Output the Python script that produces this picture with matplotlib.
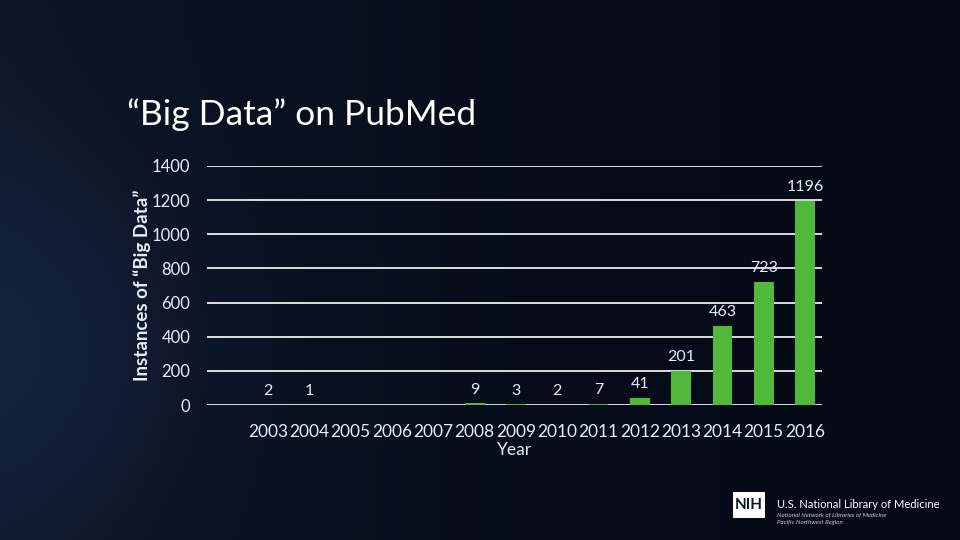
"""Bar chart: instances of "Big Data" on PubMed per year, 2003-2016."""

import matplotlib

matplotlib.use("Agg")
import matplotlib.pyplot as plt
import numpy as np
from matplotlib.patches import FancyBboxPatch

YEARS = ["2003", "2004", "2005", "2006", "2007", "2008", "2009",
         "2010", "2011", "2012", "2013", "2014", "2015", "2016"]
COUNTS = [2, 1, None, None, None, 9, 3, 2, 7, 41, 201, 463, 723, 1196]
Y_TICKS = [0, 200, 400, 600, 800, 1000, 1200, 1400]

TEXT = "#e6eef8"
BAR = "#52b83c"

plt.rcParams["font.family"] = ["Lato", "DejaVu Sans"]

fig = plt.figure(figsize=(9.6, 5.4), dpi=100)

# background: dark navy, slightly lighter toward the left edge
bg = fig.add_axes([0, 0, 1, 1], zorder=-10)
yy, xx = np.mgrid[0:1:270j, 0:1:480j]
glow = np.exp(-((xx - 0.0) ** 2 / 0.04 + (yy - 0.65) ** 2 / 0.12))
side = (1 - xx) ** 2
r = 0.02 + 0.03 * side + 0.03 * glow
g = 0.04 + 0.05 * side + 0.05 * glow
b = 0.09 + 0.07 * side + 0.09 * glow
bg.imshow(np.dstack([r, g, b]), aspect="auto", extent=(0, 1, 0, 1))
bg.set_axis_off()

ax = fig.add_axes([207 / 960, 1 - 405 / 540, 615 / 960, 239 / 540])
ax.patch.set_alpha(0)

x = np.arange(len(YEARS))
vals = [0 if v is None else v for v in COUNTS]
ax.bar(x, vals, width=0.48, color=BAR, zorder=3)

for i, v in enumerate(COUNTS):
    if v is None:
        continue
    ax.annotate(str(v), (i, v), xytext=(0, 5), textcoords="offset points",
                ha="center", va="bottom", color=TEXT, fontsize=11.5)

ax.set_ylim(0, 1400)
ax.set_xlim(-1.48, 13.41)
ax.set_yticks(Y_TICKS)
ax.set_yticklabels([str(t) for t in Y_TICKS])
ax.set_xticks(x)
ax.set_xticklabels(YEARS)
ax.tick_params(axis="y", length=0, pad=12, colors=TEXT, labelsize=12)
ax.tick_params(axis="x", length=0, pad=14, colors=TEXT, labelsize=12.5)
ax.grid(axis="y", color="white", lw=1.2, zorder=1)
for s in ax.spines.values():
    s.set_visible(False)

ax.set_xlabel("Year", color=TEXT, fontsize=12.5, labelpad=1)
fig.text(142 / 960, 1 - 285 / 540, "Instances of \u201cBig Data\u201d", rotation=90,
         ha="center", va="center", color=TEXT, fontsize=13.5, fontweight="bold")

fig.text(127 / 960, 1 - 115 / 540, "\u201cBig Data\u201d on PubMed",
         ha="left", va="center", color="white", fontsize=25.5)

# NIH footer mark
box = FancyBboxPatch((733 / 960, 1 - 518 / 540), 32 / 960, 26 / 540,
                     boxstyle="square,pad=0", transform=fig.transFigure,
                     facecolor="white", edgecolor="none")
fig.patches.append(box)
fig.text(749 / 960, 1 - 505 / 540, "NIH", ha="center", va="center",
         color="#0a1628", fontsize=11, fontweight="bold")
fig.text(777 / 960, 1 - 505 / 540, "U.S. National Library of Medicine",
         ha="left", va="center", color="white", fontsize=8)
fig.text(777 / 960, 1 - 515 / 540, "National Network of Libraries of Medicine",
         ha="left", va="center", color="#c8d0dc", fontsize=4.5, style="italic")
fig.text(777 / 960, 1 - 522 / 540, "Pacific Northwest Region",
         ha="left", va="center", color="#c8d0dc", fontsize=4.5, style="italic")

fig.savefig("out.png", dpi=100)
